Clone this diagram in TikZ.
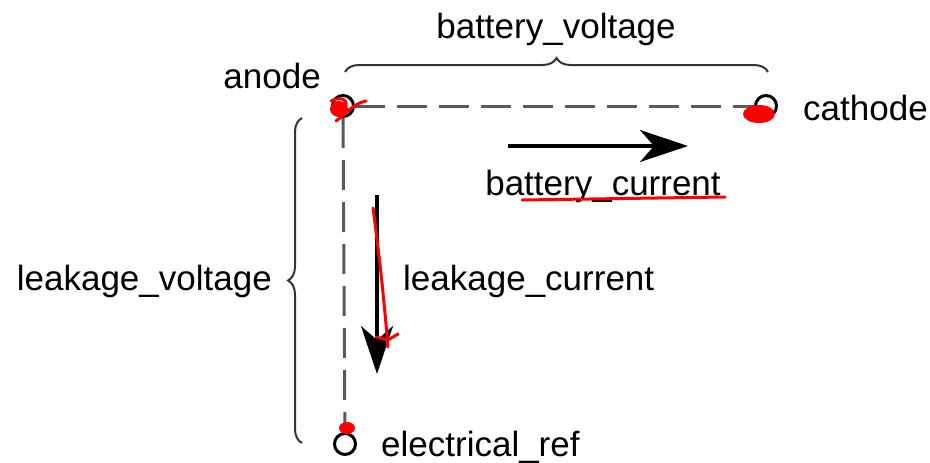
\documentclass[tikz,border=0pt]{standalone}
\usepackage{fontspec}
\setmainfont{Liberation Sans}
\usetikzlibrary{arrows.meta,decorations.pathreplacing}

\begin{document}
\begin{tikzpicture}[x=1pt,y=-1pt,
  term/.style={draw, circle, line width=3pt, minimum size=21pt, inner sep=0pt},
  lab/.style={font=\fontsize{35}{42}\selectfont, inner sep=0pt},
  wire/.style={dashed, dash pattern=on 30pt off 12pt, line width=3pt, draw=black!65},
  arr/.style={-{Stealth[length=48pt,width=32pt,inset=14pt]}, line width=4pt},
  brc/.style={decorate, decoration={brace, amplitude=14pt}, line width=2pt, draw=black!80},
  redink/.style={red, line width=3pt, line cap=round}]
\useasboundingbox (0,0) rectangle (930,463);
% terminals
\node[term] (AN) at (343,106) {};
\node[term] (CA) at (766,106) {};
\node[term] (ER) at (345,444) {};
\draw[wire] (AN) -- (CA);
\draw[wire] (AN) -- (ER);
% texts
\node[lab, anchor=base east] (ANl) at (321,88) {anode};
\node[lab, anchor=base west] (CAl) at (803,120) {cathode};
\node[lab, anchor=base west] (ERl) at (381,456) {electrical\_ref};
\node[lab, anchor=base] (BV) at (556,38) {battery\_voltage};
\node[lab, anchor=base] (BC) at (603,195) {battery\_current};
\node[lab, anchor=base west] (LC) at (403,290) {leakage\_current};
\node[lab, anchor=base east] (LV) at (272,290) {leakage\_voltage};
% braces
\coordinate (b1) at (345,72); \coordinate (b2) at (768,72);
\draw[brc] (b1) -- (b2);
\coordinate (l1) at (302,443); \coordinate (l2) at (302,118);
\draw[brc] (l1) -- (l2);
% currents
\coordinate (c1) at (508,146); \coordinate (c2) at (688,146);
\draw[arr] (c1) -- (c2);
\coordinate (k1) at (377,195); \coordinate (k2) at (377,374);
\draw[arr] (k1) -- (k2);
% red marks
\fill[red] (339,109) ellipse (9pt and 8pt);
\draw[redink] (331,101) .. controls (345,94) and (352,104) .. (340,114);
\draw[redink] (336,121) .. controls (348,113) and (352,104) .. (366,101);
\fill[red] (759,114) ellipse (16pt and 9pt);
\fill[red] (347,428) ellipse (8pt and 6pt);
\draw[redink] (522,200) -- (725,197);
\draw[redink] (373,208) .. controls (380,260) and (384,300) .. (388,347);
\draw[redink] (376,337) -- (388,340) -- (398,334);
\end{tikzpicture}
\end{document}
